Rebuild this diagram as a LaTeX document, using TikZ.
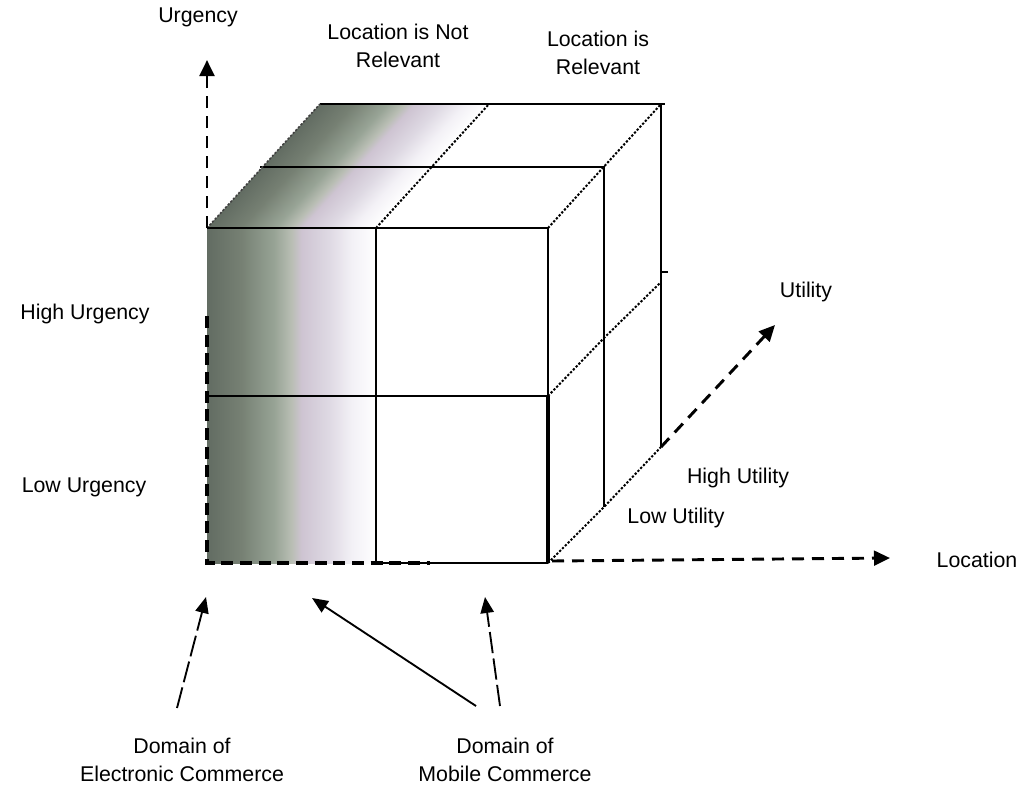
\documentclass[tikz,border=0pt]{standalone}
\usepackage{fontspec}
\setmainfont{Liberation Sans}
\usetikzlibrary{arrows.meta}
\definecolor{sh0}{RGB}{98,108,98}
\definecolor{sh1}{RGB}{118,128,115}
\definecolor{sh2}{RGB}{152,164,150}
\definecolor{sh3}{RGB}{185,190,180}
\definecolor{sh4}{RGB}{206,196,210}
\definecolor{sh5}{RGB}{222,217,227}
\definecolor{sh6}{RGB}{243,241,246}
\pgfdeclarehorizontalshading{cubeshade}{100bp}{color(0bp)=(sh0); color(25bp)=(sh0); color(35bp)=(sh1); color(45bp)=(sh2); color(50bp)=(sh3); color(53bp)=(sh4); color(61bp)=(sh5); color(68bp)=(sh6); color(75bp)=(white); color(100bp)=(white)}
\tikzset{
  edge/.style={line width=1.5pt, black},
  thickedge/.style={line width=3pt, black},
  dotline/.style={line width=1.5pt, black, dash pattern=on 1.7pt off 1.3pt},
  axis/.style={line width=2.2pt, black, dash pattern=on 9pt off 6pt},
  tipA/.style={-{Triangle[length=12pt,width=11pt]}},
  pointer/.style={line width=1.4pt, black, -{Triangle[length=12pt,width=10pt]}},
  lbl/.style={font=\fontsize{16}{21}\selectfont, inner sep=0pt, align=center},
}
\begin{document}
\begin{tikzpicture}[x=0.75pt, y=-0.75pt]
\useasboundingbox (0,0) rectangle (1021,786);
\fill[white] (0,0) rectangle (1021,786);
% cube vertices
\coordinate (fTL) at (207,228);
\coordinate (fTM) at (376,228);
\coordinate (fTR) at (548,228);
\coordinate (fML) at (207,396);
\coordinate (fMM) at (376,396);
\coordinate (fMR) at (548,396);
\coordinate (fBL) at (207,563);
\coordinate (fBM) at (376,563);
\coordinate (fBR) at (548,563);
\coordinate (fDL) at (207,316);
\coordinate (fDE) at (430,563);
\coordinate (mTL) at (260,167);
\coordinate (mTR) at (605,167);
\coordinate (mVT) at (604,167);
\coordinate (mMR) at (604,338);
\coordinate (mBR) at (604,507);
\coordinate (bTL) at (320,104);
\coordinate (bTM) at (489,104);
\coordinate (bTR) at (665,104);
\coordinate (bVT) at (661,104);
\coordinate (bMR) at (661,282);
\coordinate (bBR) at (661,447);
\coordinate (tk1) at (661,272);
\coordinate (tk2) at (668,272);
% shading
\shade[shading=cubeshade] (fTL) rectangle (fBM);
\shade[shading=cubeshade, transform canvas={shift={(207,228)}, xslant=0.911}] (0,0) rectangle (169,-124);
% top face
\draw[edge] (mTL) -- (mTR);
\draw[edge] (bTL) -- (bTR);
\draw[line width=1.2pt, black!75, dash pattern=on 1.6pt off 1.3pt] (fTL) -- (bTL);
\draw[dotline] (fTM) -- (bTM);
\draw[dotline] (fTR) -- (bVT);
% right face
\draw[edge] (mVT) -- (mBR);
\draw[edge] (bVT) -- (bBR);
\draw[dotline] (fMR) -- (mMR) -- (bMR);
\draw[edge] (tk1) -- (tk2);
\draw[dotline] (fBR) -- (mBR) -- (bBR);
% front face
\draw[edge] (fTL) -- (fTR);
\draw[edge] (fML) -- (fMR);
\draw[edge] (fTM) -- (fBM);
\draw[edge] (fTR) -- (fMR);
\draw[thickedge] (fMR) -- (fBR);
\draw[edge] (fBM) -- (fBR);
\draw[line width=3pt, dash pattern=on 9pt off 5pt] (fDL) -- (fBL) -- (fDE);
% axes
\coordinate (urgTip) at (207,60);
\coordinate (utTip) at (775,325);
\coordinate (locS) at (552,561);
\coordinate (locTip) at (890,558);
\draw[axis, tipA] (fTL) -- (urgTip);
\draw[axis, tipA] (bBR) -- (utTip);
\draw[axis, tipA] (locS) -- (locTip);
% labels
\node[lbl] (urg) at (198,17) {Urgency};
\node[lbl] (lnr) at (398,46) {Location is Not\\Relevant};
\node[lbl] (lr) at (598,53) {Location is\\Relevant};
\node[lbl] (hu) at (85,314) {High Urgency};
\node[lbl] (lu) at (84,487) {Low Urgency};
\node[lbl] (ut) at (806,292) {Utility};
\node[lbl] (hut) at (738,478) {High Utility};
\node[lbl] (lut) at (676,518) {Low Utility};
\node[lbl] (loc) at (977,560) {Location};
\node[lbl] (dec) at (182,760) {Domain of\\Electronic Commerce};
\node[lbl] (dmc) at (505,760) {Domain of\\Mobile Commerce};
% pointers
\coordinate (eTail) at (177,708);
\coordinate (eTip) at (206,597);
\coordinate (m1Tail) at (476,706);
\coordinate (m1Tip) at (312,598);
\coordinate (m2Tail) at (500,706);
\coordinate (m2Tip) at (485,597);
\draw[pointer, dash pattern=on 16pt off 4pt] (eTail) -- (eTip);
\draw[pointer] (m1Tail) -- (m1Tip);
\draw[pointer, dash pattern=on 16pt off 4pt] (m2Tail) -- (m2Tip);
\end{tikzpicture}
\end{document}
